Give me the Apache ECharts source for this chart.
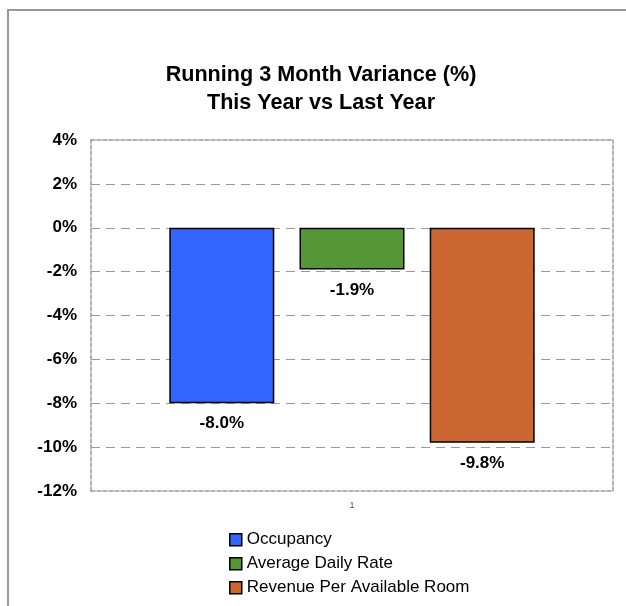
<!DOCTYPE html>
<html>
<head>
<meta charset="utf-8">
<script src="https://cdn.jsdelivr.net/npm/echarts@6/dist/echarts.min.js"></script>
<style>html,body{margin:0;padding:0;background:#fff;}#c{width:626px;height:606px;}</style>
</head>
<body>
<div id="c"></div>
<script>
const categories = ['1'];
const seriesNames = ['Occupancy', 'Average Daily Rate', 'Revenue Per Available Room'];
const occupancy = [-8.0];
const averageDailyRate = [-1.9];
const revpar = [-9.8];
const colors = ['#3366FF', '#559637', '#CC6633'];
const yMin = -12, yMax = 4, yStep = 2;

const FONT = '"Liberation Sans", Arial, Helvetica, sans-serif';
const chart = echarts.init(document.getElementById('c'), null, {renderer: 'canvas'});
const values = [occupancy, averageDailyRate, revpar];

const series = seriesNames.map((name, i) => ({
  name: name,
  type: 'bar',
  xAxisIndex: 0,
  yAxisIndex: 0,
  data: values[i],
  barWidth: 105,
  barGap: '24%',
  itemStyle: {color: colors[i], borderColor: '#000', borderWidth: 1.5},
  label: {
    show: true,
    position: 'bottom',
    distance: 12,
    formatter: p => p.value.toFixed(1) + '%',
    fontFamily: FONT, fontWeight: 'bold', fontSize: 17, color: '#000'
  },
  emphasis: {disabled: true},
  z: 2
}));

const borderLine = {show: true, onZero: false, lineStyle: {color: '#999', width: 1.5, type: [4, 2]}};

chart.setOption({
  animation: false,
  backgroundColor: '#fff',
  title: {
    text: 'Running 3 Month Variance (%)\nThis Year vs Last Year',
    left: 316, textAlign: 'center', top: 56,
    textStyle: {fontFamily: FONT, fontWeight: 'bold', fontSize: 21.6, lineHeight: 28, color: '#000'}
  },
  graphic: [{
    type: 'rect', x: 0, y: 0, silent: true,
    shape: {x: 8, y: 10, width: 700, height: 700},
    style: {fill: 'none', stroke: '#999', lineWidth: 2}
  }],
  legend: {
    orient: 'vertical', left: 229, top: 531, padding: 0,
    icon: 'rect',
    itemWidth: 12, itemHeight: 12, itemGap: 6.5,
    itemStyle: {borderColor: '#000', borderWidth: 1.5},
    textStyle: {fontFamily: FONT, fontSize: 17, color: '#000', lineHeight: 17.5},
    data: seriesNames
  },
  grid: {left: 91, right: 13, top: 140, bottom: 115, containLabel: false},
  xAxis: [{
    type: 'category', data: categories, position: 'bottom',
    axisLine: borderLine, axisTick: {show: false},
    axisLabel: {fontFamily: FONT, fontSize: 9, color: '#555', margin: 10}
  }, {
    type: 'category', data: categories, position: 'top',
    axisLine: borderLine, axisTick: {show: false}, axisLabel: {show: false}
  }],
  yAxis: [{
    type: 'value', min: yMin, max: yMax, interval: yStep, position: 'left',
    axisLine: borderLine, axisTick: {show: false},
    axisLabel: {formatter: '{value}%', fontFamily: FONT, fontWeight: 'bold', fontSize: 17, color: '#000', margin: 14},
    splitLine: {show: true, showMinLine: false, showMaxLine: false, lineStyle: {color: '#999', width: 1, type: [9, 6]}}
  }, {
    type: 'value', min: yMin, max: yMax, interval: yStep, position: 'right',
    axisLine: borderLine, axisTick: {show: false}, axisLabel: {show: false}, splitLine: {show: false}
  }],
  series: series
});
</script>
</body>
</html>
